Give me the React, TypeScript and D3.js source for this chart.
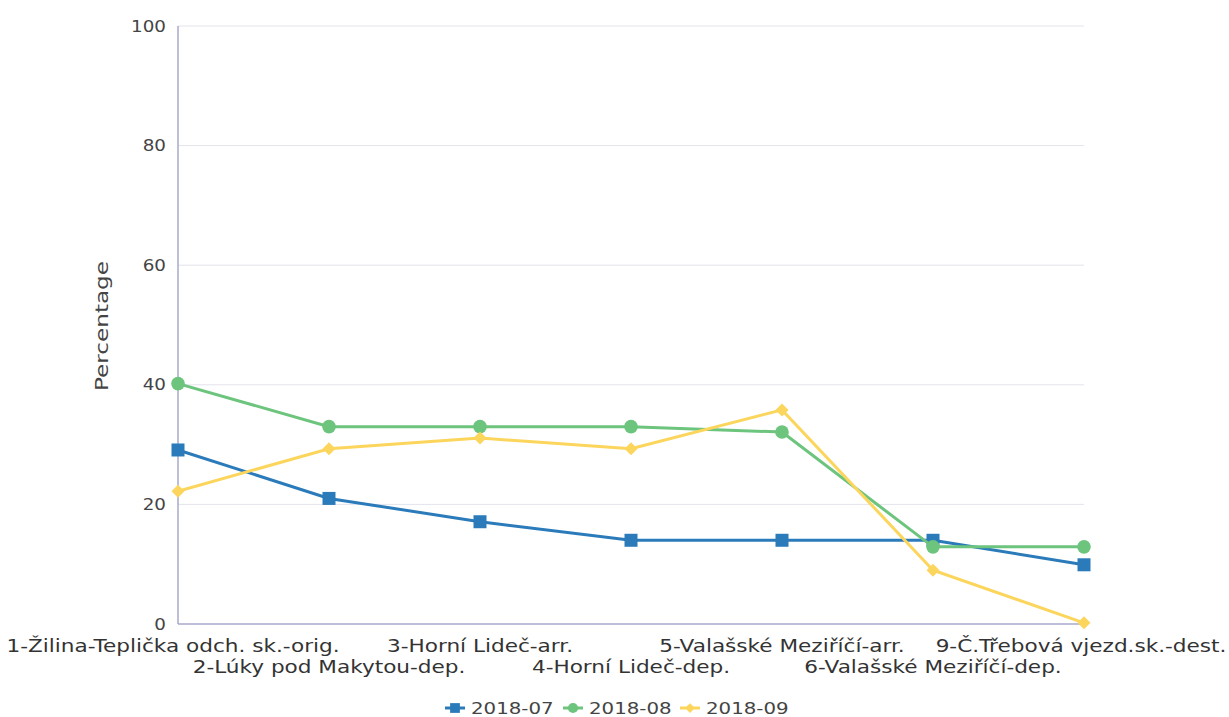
import React from "react";
import * as d3 from "d3";

const categories = [
  "1-Žilina-Teplička odch. sk.-orig.",
  "2-Lúky pod Makytou-dep.",
  "3-Horní Lideč-arr.",
  "4-Horní Lideč-dep.",
  "5-Valašské Meziříčí-arr.",
  "6-Valašské Meziříčí-dep.",
  "9-Č.Třebová vjezd.sk.-dest.",
];
const seriesNames = ["2018-07", "2018-08", "2018-09"];
const values0718 = [29.1, 21.0, 17.1, 14.0, 14.0, 14.0, 9.9];
const values0818 = [40.2, 33.0, 33.0, 33.0, 32.1, 12.9, 12.9];
const values0918 = [22.2, 29.3, 31.1, 29.3, 35.8, 9.0, 0.2];
const yTicks = [0, 20, 40, 60, 80, 100];

const colors = ["#2b7bba", "#6cc47d", "#fcd55c"];
const markers = ["square", "circle", "diamond"];
const allValues = [values0718, values0818, values0918];

const W = 1229;
const H = 717;
const left = 178;
const right = 1084;
const top = 26;
const bottom = 624;
const font = "'DejaVu Sans', sans-serif";

function Marker({ type, x, y, color, s = 1 }: any) {
  if (type === "square") return <rect x={x - 6.5 * s} y={y - 6.5 * s} width={13 * s} height={13 * s} fill={color} />;
  if (type === "circle") return <circle cx={x} cy={y} r={6.8 * s} fill={color} />;
  const r = 6.5 * s;
  return <path d={`M${x},${y - r}L${x + r},${y}L${x},${y + r}L${x - r},${y}Z`} fill={color} />;
}

function T({ x, y, sx = 1.3, size, anchor = "start", rotate = 0, fill = "#444", children }: any) {
  return (
    <text
      transform={`translate(${x},${y}) rotate(${rotate}) scale(${sx},1)`}
      textAnchor={anchor}
      fontFamily={font}
      fontSize={size}
      fill={fill}
    >
      {children}
    </text>
  );
}

export default function App() {
  const x = d3.scalePoint<string>().domain(categories).range([left, right]);
  const y = d3.scaleLinear().domain([0, 100]).range([bottom, top]);
  const line = d3
    .line<number>()
    .x((_, i) => x(categories[i]) as number)
    .y((d) => y(d));

  const legendX = [445, 563, 680];
  const labelX = (c: string, i: number) => {
    const v = x(c) as number;
    if (i === 0) return v - 5;
    if (i === categories.length - 1) return v - 3;
    return v;
  };

  return (
    <svg width={W} height={H} style={{ position: "absolute", left: 0, top: 0, background: "#fff" }}>
      {yTicks.map((t) => (
        <g key={t}>
          {t > 0 && <line x1={left} x2={right} y1={y(t)} y2={y(t)} stroke="#e3e3ec" strokeWidth={1} />}
          <T x={166} y={y(t) + 5.5} size={15} sx={1.22} anchor="end">
            {t}
          </T>
        </g>
      ))}
      <line x1={left} x2={left} y1={top} y2={bottom} stroke="#a8a8cc" strokeWidth={1.5} />
      <line x1={left} x2={right} y1={bottom} y2={bottom} stroke="#a8a8cc" strokeWidth={1.5} />
      <T x={108} y={(top + bottom) / 2 + 1} size={17} sx={1.36} anchor="middle" rotate={-90}>
        Percentage
      </T>
      {categories.map((c, i) => (
        <T key={c} x={labelX(c, i)} y={i % 2 === 0 ? 652 : 673} size={17} sx={1.27} anchor="middle" fill="#333">
          {c}
        </T>
      ))}
      {allValues.map((vals, si) => (
        <g key={si}>
          <path d={line(vals) as string} fill="none" stroke={colors[si]} strokeWidth={3} />
          {vals.map((v, i) => (
            <Marker key={i} type={markers[si]} x={x(categories[i])} y={y(v)} color={colors[si]} />
          ))}
        </g>
      ))}
      {seriesNames.map((n, i) => (
        <g key={n}>
          <line x1={legendX[i]} x2={legendX[i] + 20} y1={708} y2={708} stroke={colors[i]} strokeWidth={3} />
          <Marker type={markers[i]} x={legendX[i] + 10} y={708} color={colors[i]} s={0.75} />
          <T x={legendX[i] + 26} y={714} size={15} sx={1.32}>
            {n}
          </T>
        </g>
      ))}
    </svg>
  );
}
